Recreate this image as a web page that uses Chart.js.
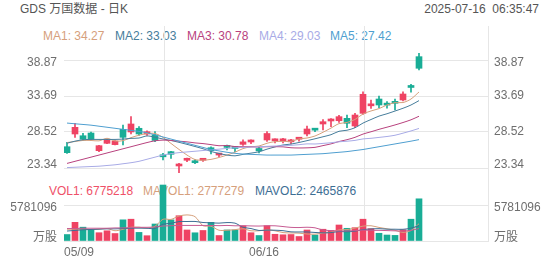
<!DOCTYPE html>
<html><head><meta charset="utf-8">
<script src="https://cdn.jsdelivr.net/npm/chart.js@4.4.1/dist/chart.umd.min.js"></script>
<style>
html,body{margin:0;padding:0;background:#fff;}
#wrap{position:relative;width:552px;height:265px;overflow:hidden;font-family:"Liberation Sans",Arial,"Noto Sans CJK SC",sans-serif;font-size:12px;}
.t{position:absolute;white-space:pre;line-height:14px;}
canvas{position:absolute;left:0;}
</style></head><body>
<div id="wrap">
<div class="t" style="left:20px;top:2px;color:#555">GDS 万国数据 - 日K</div>
<div class="t" style="right:13px;top:2px;color:#555">2025-07-16  06:35:47</div>
<div id="maLegend"></div>
<div id="volLegend"></div>
<canvas id="pc" width="552" height="178" style="top:0;width:552px;height:178px"></canvas>
<canvas id="vc" width="552" height="87" style="top:178px;width:552px;height:87px"></canvas>
</div>
<script>
// ---- data ----
const dateTickLabels = ["05/09", "06/16", ""];
const priceTickValues = [23.34, 28.52, 33.69, 38.87];
const priceTickLabels = ["23.34", "28.52", "33.69", "38.87"];
const volTickValues = [0, 5781096];
const volTickLabels = ["万股", "5781096"];

const opens  = [26.40,28.23,27.98,28.37,25.83,26.89,26.70,28.90,28.52,29.05,28.23,28.10,25.00,25.69,23.63,24.45,24.17,24.45,26.26,25.20,26.35,26.20,26.74,27.08,26.15,27.37,27.25,27.25,27.10,27.48,28.23,28.83,29.67,30.10,30.14,30.48,29.38,31.20,32.28,33.26,32.43,32.87,33.12,34.97,39.35];
const highs  = [27.03,29.77,28.33,28.52,26.60,27.45,27.30,29.52,30.72,29.28,28.70,28.56,25.45,25.75,24.02,24.75,24.55,24.70,26.40,25.45,26.65,26.45,27.40,27.40,26.35,28.56,27.55,27.60,27.45,27.75,29.38,29.05,30.30,30.45,30.90,30.96,31.20,34.31,33.12,33.69,32.90,33.26,34.31,35.37,39.83];
const lows   = [25.45,27.75,27.27,27.27,25.70,26.85,26.65,26.65,28.23,28.04,28.04,27.12,24.49,24.73,22.67,24.25,23.95,24.30,25.36,24.97,25.93,25.70,26.60,26.85,25.50,27.18,26.95,26.95,26.80,27.20,27.94,28.55,28.80,29.30,29.90,29.13,29.13,31.06,31.92,32.01,31.95,31.68,32.97,34.23,37.43];
const closes = [25.54,29.19,27.47,27.47,26.55,27.37,27.22,27.75,29.67,28.23,28.56,27.30,24.95,25.31,23.92,24.52,24.10,24.52,25.83,25.26,26.30,26.14,27.10,27.14,25.80,28.30,27.30,27.30,27.15,27.53,28.95,28.78,30.00,30.16,30.72,29.77,30.96,33.94,32.33,32.40,32.38,32.64,33.98,34.92,37.68];

const ma1 = [27.00,27.15,27.30,27.30,27.24,27.61,27.22,27.27,27.71,28.05,28.29,28.30,27.74,26.87,26.01,25.20,24.56,24.47,24.58,24.85,25.20,25.61,26.13,26.39,26.50,26.90,27.13,27.17,27.17,27.52,27.65,27.94,28.48,29.08,29.72,29.89,30.32,31.11,31.54,31.88,32.40,32.74,32.75,33.26,34.27];
const ma2 = [26.90,27.20,27.40,27.45,27.45,27.45,27.45,27.50,27.60,27.65,27.95,27.76,27.51,27.29,27.03,26.74,26.43,26.11,25.72,25.43,25.20,25.09,25.30,25.48,25.67,26.05,26.37,26.65,26.78,27.01,27.27,27.54,27.83,28.13,28.62,28.77,29.13,29.80,30.31,30.80,31.14,31.53,31.93,32.40,33.03];
const ma3 = [24.00,24.30,24.60,24.90,25.20,25.50,25.80,26.10,26.40,26.70,27.00,27.25,27.35,27.30,27.20,27.10,26.95,26.85,26.70,26.54,26.57,26.42,26.40,26.39,26.35,26.40,26.40,26.38,26.25,26.22,26.24,26.31,26.56,26.81,27.15,27.41,27.75,28.22,28.55,28.90,29.21,29.53,29.88,30.27,30.78];
const ma4 = [23.40,23.45,23.50,23.55,23.60,23.70,23.80,23.95,24.10,24.30,24.60,24.90,25.20,25.40,25.55,25.65,25.75,25.85,25.95,26.05,26.15,26.25,26.30,26.35,26.40,26.45,26.50,26.55,26.60,26.69,26.81,26.79,26.88,26.97,27.11,27.19,27.31,27.52,27.61,27.74,27.87,28.05,28.35,28.67,29.03];
const ma5 = [29.80,29.70,29.60,29.50,29.35,29.20,29.05,28.90,28.75,28.60,28.40,28.10,27.80,27.50,27.20,26.90,26.60,26.30,26.00,25.80,25.60,25.45,25.35,25.30,25.25,25.20,25.20,25.20,25.20,25.25,25.30,25.35,25.40,25.50,25.60,25.70,25.85,26.00,26.20,26.40,26.60,26.80,27.00,27.20,27.42];
const maNames = ["MA1", "MA2", "MA3", "MA4", "MA5"];
const maLast = ["34.27", "33.03", "30.78", "29.03", "27.42"];

const volumes = [1040000,3000000,2220000,1850000,1330000,1640000,1200000,3400000,3500000,1380000,850000,2730000,8990000,3400000,4060000,1770000,1320000,1690000,3000000,880000,1770000,1770000,2440000,1330000,880000,2460000,1080000,1000000,1040000,720000,1770000,960000,1890000,1700000,2570000,2040000,2140000,3500000,1980000,1240000,960000,900000,1810000,3500000,6775218];
const mavol1 = [1900000,1900000,1900000,1850000,1890000,2010000,1650000,1880000,2210000,2220000,2070000,2370000,3490000,3470000,4010000,4190000,3910000,2450000,2370000,1730000,1730000,1820000,1970000,1640000,1640000,1780000,1640000,1350000,1290000,1260000,1120000,1100000,1280000,1410000,1780000,1830000,2070000,2390000,2450000,2180000,1960000,1720000,1380000,1680000,2777279];
const mavol2 = [1600000,1700000,1800000,1850000,1900000,1950000,1950000,2000000,2050000,2060000,2040000,2010000,2690000,2840000,3120000,3130000,3140000,2970000,2920000,2870000,2960000,2870000,2210000,2000000,1690000,1750000,1730000,1660000,1470000,1450000,1450000,1370000,1310000,1350000,1520000,1480000,1580000,1830000,1930000,1980000,1900000,1890000,1880000,2060000,2465876];
const mavol3 = [2000000,2000000,2050000,2050000,2050000,2050000,2100000,2100000,2150000,2200000,2200000,2250000,2400000,2450000,2500000,2500000,2500000,2500000,2500000,2460000,2500000,2440000,2450000,2420000,2400000,2440000,2440000,2320000,2190000,2160000,2210000,2120000,1760000,1680000,1600000,1620000,1660000,1750000,1700000,1710000,1670000,1630000,1600000,1710000,2000000];
const volNames = ["VOL1", "MAVOL1", "MAVOL2"];
const volLast = ["6775218", "2777279", "2465876"];

// ---- styles ----
const RED = "#ef4363", TEAL = "#19ad96", GRID = "#e6e6e6", TICK = "#6e6e6e";
const maColors = ["#d6a07c", "#467d9b", "#b8427e", "#a8abe6", "#4f9fd0"];
const volLegendColors = ["#ef5068", "#d6a07c", "#3d6e94"];
const maLeft = [43, 115, 187, 259, 330];
const volLeft = [49, 143, 255];

const maL = document.getElementById('maLegend');
maNames.forEach((n, k) => {
  const d = document.createElement('div'); d.className = 't';
  d.style.left = maLeft[k] + 'px'; d.style.top = '29px'; d.style.color = maColors[k];
  d.textContent = n + ': ' + maLast[k]; maL.appendChild(d);
});
const vL = document.getElementById('volLegend');
volNames.forEach((n, k) => {
  const d = document.createElement('div'); d.className = 't';
  d.style.left = volLeft[k] + 'px'; d.style.top = '184px'; d.style.color = volLegendColors[k];
  d.textContent = n + ': ' + volLast[k]; vL.appendChild(d);
});

Chart.defaults.font.family = '"Liberation Sans", Arial, "Noto Sans CJK SC", sans-serif';
Chart.defaults.font.size = 12;
Chart.defaults.color = TICK;

const idx = closes.map((_, i) => i);
const candleColor = idx.map(i => closes[i] >= opens[i] ? RED : TEAL);
const xMin = -0.375, xMax = 52.625;
const xGrid = [xMin, xMin + 25, xMin + 50];

const pMin = 23.34 - 10 * (38.87 - 23.34) / 108;
const pMax = 38.87 + 34 * (38.87 - 23.34) / 108;
const vMax = 5781096 * 63 / 36;

function xScale(showLabels) {
  return {
    type: 'linear', min: xMin, max: xMax, offset: false,
    afterBuildTicks: s => { s.ticks = xGrid.map(v => ({ value: v })); },
    afterFit: s => { s.height = showLabels ? 24 : 0; s.paddingLeft = 0; s.paddingRight = 0; },
    ticks: { display: showLabels, autoSkip: false, maxRotation: 0, align: 'inner', padding: 4,
             callback: (v, i) => dateTickLabels[i] },
    grid: { color: GRID, drawTicks: false },
    border: { display: false }
  };
}
// top label nudged down, bottom label nudged up (two-line trick, 6px line height)
function edgeLabel(labels, i) {
  if (i === labels.length - 1) return ["", labels[i]];
  if (i === 0) return [labels[i], ""];
  return labels[i];
}
function yScale(pos, min, max, vals, labels, lh) {
  return {
    position: pos, min: min, max: max,
    afterBuildTicks: s => { s.ticks = vals.map(v => ({ value: v })); },
    afterFit: s => { s.width = 64; s.paddingTop = 0; s.paddingBottom = 0; },
    ticks: { autoSkip: false, padding: pos === 'left' ? 7 : 6, font: { size: 12, lineHeight: lh },
             callback: (v, i) => edgeLabel(labels, i) },
    grid: { display: pos === 'left', color: GRID, drawTicks: false },
    border: { display: pos === 'right', color: GRID }
  };
}
const base = {
  responsive: false, animation: false, devicePixelRatio: 1,
  plugins: { legend: { display: false }, tooltip: { enabled: false } },
  events: []
};
function maSet(arr, color) {
  return { type: 'line', data: idx.map(i => ({ x: i, y: arr[i] })), borderColor: color, borderWidth: 1,
           pointRadius: 0, tension: 0.3, order: 0, yAxisID: 'y' };
}

new Chart(document.getElementById('pc'), {
  type: 'bar',
  data: { datasets: [
    maSet(ma5, maColors[4]), maSet(ma4, maColors[3]), maSet(ma3, maColors[2]), maSet(ma2, maColors[1]), maSet(ma1, maColors[0]),
    { type: 'bar', data: idx.map(i => ({ x: i, y: [opens[i], closes[i]] })), backgroundColor: candleColor,
      barThickness: 6, grouped: false, minBarLength: 2, order: 1, yAxisID: 'y' },
    { type: 'bar', data: idx.map(i => ({ x: i, y: [lows[i], highs[i]] })), backgroundColor: candleColor,
      barThickness: 1, grouped: false, order: 2, yAxisID: 'y' }
  ]},
  options: Object.assign({}, base, {
    layout: { padding: { top: 26, bottom: 0, left: 0, right: 0 } },
    scales: {
      x: xScale(false),
      y: yScale('left', pMin, pMax, priceTickValues, priceTickLabels, 0.5),
      yR: yScale('right', pMin, pMax, priceTickValues, priceTickLabels, 0.5)
    }
  })
});

function mvSet(arr, color) {
  return { type: 'line', data: idx.map(i => ({ x: i, y: arr[i] })), borderColor: color, borderWidth: 1,
           pointRadius: 0, tension: 0.3, order: 0, yAxisID: 'y' };
}
new Chart(document.getElementById('vc'), {
  type: 'bar',
  data: { datasets: [
    mvSet(mavol3, "#c65b92"), mvSet(mavol2, "#3d6e94"), mvSet(mavol1, "#d6a07c"),
    { type: 'bar', data: idx.map(i => ({ x: i, y: volumes[i] })), backgroundColor: candleColor,
      barThickness: 6, grouped: false, order: 1, yAxisID: 'y' }
  ]},
  options: Object.assign({}, base, {
    layout: { padding: 0 },
    scales: {
      x: xScale(true),
      y: yScale('left', 0, vMax, volTickValues, volTickLabels, 0.5),
      yR: yScale('right', 0, vMax, volTickValues, volTickLabels, 0.5)
    }
  })
});
</script>
</body></html>
